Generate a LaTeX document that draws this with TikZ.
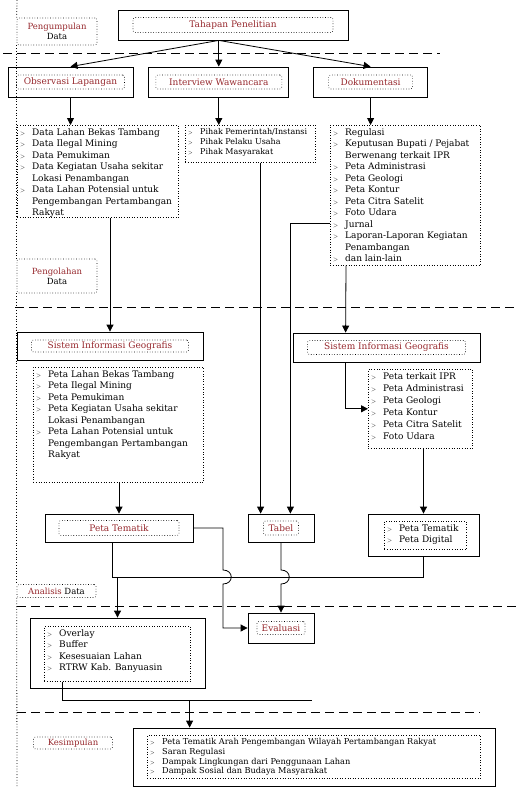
\documentclass[tikz,border=0pt]{standalone}
\usepackage{fontspec}
\setmainfont{DejaVu Serif}
\usetikzlibrary{arrows.meta, positioning, calc}

\definecolor{hd}{RGB}{150,40,45}
\newcommand{\itmk}{\makebox[12pt][l]{\scalebox{0.7}{$>$}}}
\newcommand{\itmc}{\hspace*{12pt}}

\begin{document}
\begin{tikzpicture}[
  x=1pt, y=-1pt,
  box/.style={draw, line width=0.8pt, inner sep=0pt},
  ttl/.style={draw, dotted, semithick, rounded corners=2pt, inner sep=0pt,
              text=hd, font=\fontsize{9}{10}\selectfont},
  lbl/.style={draw, dotted, semithick, rounded corners=2pt, inner sep=0pt,
              align=center, font=\fontsize{8.5}{10}\selectfont},
  lst/.style={draw, dotted, semithick, inner sep=0pt, anchor=north west},
  lsttxt/.style={align=left, anchor=north west, inner sep=3pt,
                 font=\fontsize{9}{11.5}\selectfont},
  stage/.style={dashed, dash pattern=on 9pt off 5pt, thick},
  regline/.style={dotted, thick},
  conn/.style={line width=0.8pt},
  ar/.style={conn, -{Triangle[length=7pt, width=7pt]}}
]
\useasboundingbox (0,0) rectangle (517,787);

% stage 1 -- pengumpulan data
\node[lbl, minimum width=80pt, minimum height=27pt] (lblKumpul) at (57,31.5) {\textcolor{hd}{Pengumpulan}\\Data};
\node[box, minimum width=230pt, minimum height=30pt] (tahap) at (233,25) {};
\node[ttl, minimum width=200pt, minimum height=15pt] (tahapIn) at (tahap) {Tahapan Penelitian};
\draw[stage] (3,53) -- (440,53);

\node[box, minimum width=125pt, minimum height=30pt] (obs) at (70.5,82) {};
\node[ttl, minimum width=108pt, minimum height=14pt] (obsIn) at (obs) {Observasi Lapangan};
\node[box, minimum width=140pt, minimum height=30pt, right=15pt of obs] (wwc) {};
\node[ttl, minimum width=126pt, minimum height=14pt] (wwcIn) at (wwc) {Interview Wawancara};
\node[box, minimum width=114pt, minimum height=30pt, right=24pt of wwc] (dok) {};
\node[ttl, minimum width=84pt, minimum height=14pt] (dokIn) at (dok) {Dokumentasi};

\draw[ar] (tahap.south -| wwc) -- (obs.north);
\draw[ar] (tahap.south -| wwc) -- (wwc.north);
\draw[ar] (tahap.south -| wwc) -- (dok.north);

\node[lst, minimum width=161pt, minimum height=92pt] (lstObs) at (17,125) {};
\node[lsttxt] (lstObsTx) at (lstObs.north west) {%
  \itmk Data Lahan Bekas Tambang\\
  \itmk Data Ilegal Mining\\
  \itmk Data Pemukiman\\
  \itmk Data Kegiatan Usaha sekitar\\
  \itmc Lokasi Penambangan\\
  \itmk Data Lahan Potensial untuk\\
  \itmc Pengembangan Pertambangan\\
  \itmc Rakyat};
\node[lst, minimum width=130pt, minimum height=37pt] (lstWwc) at (185,125) {};
\node[lsttxt, font=\fontsize{8}{10}\selectfont] (lstWwcTx) at (lstWwc.north west) {%
  \itmk Pihak Pemerintah/Instansi\\
  \itmk Pihak Pelaku Usaha\\
  \itmk Pihak Masyarakat};
\node[lst, minimum width=150pt, minimum height=140pt] (lstDok) at (330,125) {};
\node[lsttxt] (lstDokTx) at (lstDok.north west) {%
  \itmk Regulasi\\
  \itmk Keputusan Bupati / Pejabat\\
  \itmc Berwenang terkait IPR\\
  \itmk Peta Administrasi\\
  \itmk Peta Geologi\\
  \itmk Peta Kontur\\
  \itmk Peta Citra Satelit\\
  \itmk Foto Udara\\
  \itmk Jurnal\\
  \itmk Laporan-Laporan Kegiatan\\
  \itmc Penambangan\\
  \itmk dan lain-lain};

\draw[ar] (obs.south) -- (obs.south |- lstObs.north);
\draw[ar] (wwc.south) -- (wwc.south |- lstWwc.north);
\draw[ar] (dok.south) -- (dok.south |- lstDok.north);

% stage 2 -- pengolahan data
\node[lbl, minimum width=80pt, minimum height=34pt] (lblOlah) at (57,276) {\textcolor{hd}{Pengolahan}\\Data};
\draw[stage] (15,307) -- (517,307);

\node[box, minimum width=186pt, minimum height=28pt] (sig1) at (110,346) {};
\node[ttl, minimum width=157pt, minimum height=12pt] (sig1In) at (sig1) {Sistem Informasi Geografis};
\node[lst, minimum width=170pt, minimum height=115pt] (lstSig1) at (33,367) {};
\node[lsttxt] (lstSig1Tx) at (lstSig1.north west) {%
  \itmk Peta Lahan Bekas Tambang\\
  \itmk Peta Ilegal Mining\\
  \itmk Peta Pemukiman\\
  \itmk Peta Kegiatan Usaha sekitar\\
  \itmc Lokasi Penambangan\\
  \itmk Peta Lahan Potensial untuk\\
  \itmc Pengembangan Pertambangan\\
  \itmc Rakyat};
\node[box, minimum width=148pt, minimum height=28pt] (tem) at (119,528) {};
\node[ttl, minimum width=120pt, minimum height=15pt] (temIn) at (tem) {Peta Tematik};

\node[box, minimum width=66pt, minimum height=28pt] (tab) at (281,528) {};
\node[ttl, minimum width=35pt, minimum height=14pt] (tabIn) at (tab) {Tabel};

\node[box, minimum width=187pt, minimum height=29pt] (sig2) at (386.5,347.5) {};
\node[ttl, minimum width=158pt, minimum height=14pt] (sig2In) at (sig2) {Sistem Informasi Geografis};
\node[lst, minimum width=104pt, minimum height=79pt] (lstSig2) at (368,369) {};
\node[lsttxt, font=\fontsize{9}{12}\selectfont] (lstSig2Tx) at (lstSig2.north west) {%
  \itmk Peta terkait IPR\\
  \itmk Peta Administrasi\\
  \itmk Peta Geologi\\
  \itmk Peta Kontur\\
  \itmk Peta Citra Satelit\\
  \itmk Foto Udara};
\node[box, minimum width=111pt, minimum height=42pt] (dig) at (423.5,535) {};
\node[lst, minimum width=82pt, minimum height=28pt] (digIn) at (384,521) {};
\node[lsttxt, font=\fontsize{9}{11}\selectfont] (digTx) at (digIn.north west) {%
  \itmk Peta Tematik\\
  \itmk Peta Digital};

\draw[ar] (lstObs.south -| sig1.north) -- (sig1.north);
\draw[ar] (lstSig1.south -| tem) -- (tem.north);
\draw[ar] ($(lstWwc.south -| tab.north west)+(13,0)$) -- ($(tab.north west)+(13,0)$);
\draw[ar] ($(lstDok.north west)+(0,98)$) -| ($(tab.north east)+(-24,0)$);
\draw[ar] ($(lstDok.south west)+(16,0)$) -- ($(sig2.north west)+(53,0)$);
\draw[ar] ($(sig2.south west)+(53,0)$) |- (lstSig2.west);
\draw[ar] (lstSig2.south -| dig) -- (dig.north);

% stage 3 -- analisis data
\node[lbl, minimum width=79pt, minimum height=13pt] (lblAnal) at (56.5,591) {\textcolor{hd}{Analisis} Data};
\draw[stage] (17,606) -- (517,606);

\node[box, minimum width=175pt, minimum height=70pt] (ovl) at (117.5,653) {};
\node[lst, minimum width=146pt, minimum height=55pt] (ovlIn) at (44,626) {};
\node[lsttxt] (ovlTx) at (ovlIn.north west) {%
  \itmk Overlay\\
  \itmk Buffer\\
  \itmk Kesesuaian Lahan\\
  \itmk RTRW Kab. Banyuasin};
\node[box, minimum width=66pt, minimum height=30pt] (evl) at (281,628) {};
\node[ttl, minimum width=48pt, minimum height=13pt] (evlIn) at (evl) {Evaluasi};

\coordinate (hopA) at (223,577);
\coordinate (hopB) at (tab.south |- hopA);
\draw[conn] ($(tem.south)+(-7,0)$) |- (dig.south |- hopA) -- (dig.south);
\draw[ar] (ovl.north |- hopA) -- (ovl.north);
\draw[ar] (tem.east) -| ($(hopA)+(0,-7)$) .. controls +(11,0) and +(11,0) .. ($(hopA)+(0,7)$) |- (evl.west);
\draw[ar] (tab.south) -- ($(hopB)+(0,-7)$) .. controls +(11,0) and +(11,0) .. ($(hopB)+(0,7)$) -- (evl.north);

% stage 4 -- kesimpulan
\coordinate (jnK) at (312,700);
\draw[conn] ($(ovlIn.south west)+(18,0)$) |- (jnK);
\draw[stage] (17,712) -- (480,712);
\node[lbl, minimum width=79pt, minimum height=12pt] (lblKes) at (73,743) {\textcolor{hd}{Kesimpulan}};
\node[box, minimum width=362pt, minimum height=58pt] (kes) at (314,757) {};
\coordinate (kesIn) at ($(kes.north west)+(57,0)$);
\draw[ar] (kesIn |- jnK) -- (kesIn);
\node[lst, minimum width=333pt, minimum height=43pt] (kesLs) at (147,735) {};
\node[lsttxt, font=\fontsize{8.2}{9.8}\selectfont] (kesTx) at (kesLs.north west) {%
  \itmk Peta Tematik Arah Pengembangan Wilayah Pertambangan Rakyat\\
  \itmk Saran Regulasi\\
  \itmk Dampak Lingkungan dari Penggunaan Lahan\\
  \itmk Dampak Sosial dan Budaya Masyarakat};

\draw[regline] (17,0) -- (lblKumpul.north west);
\draw[regline] (lblKumpul.south west) -- (lblOlah.north west);
\draw[regline] (lblOlah.south west) -- (lblAnal.north west);
\draw[regline] (lblAnal.south west) -- (17,787);
\end{tikzpicture}
\end{document}
